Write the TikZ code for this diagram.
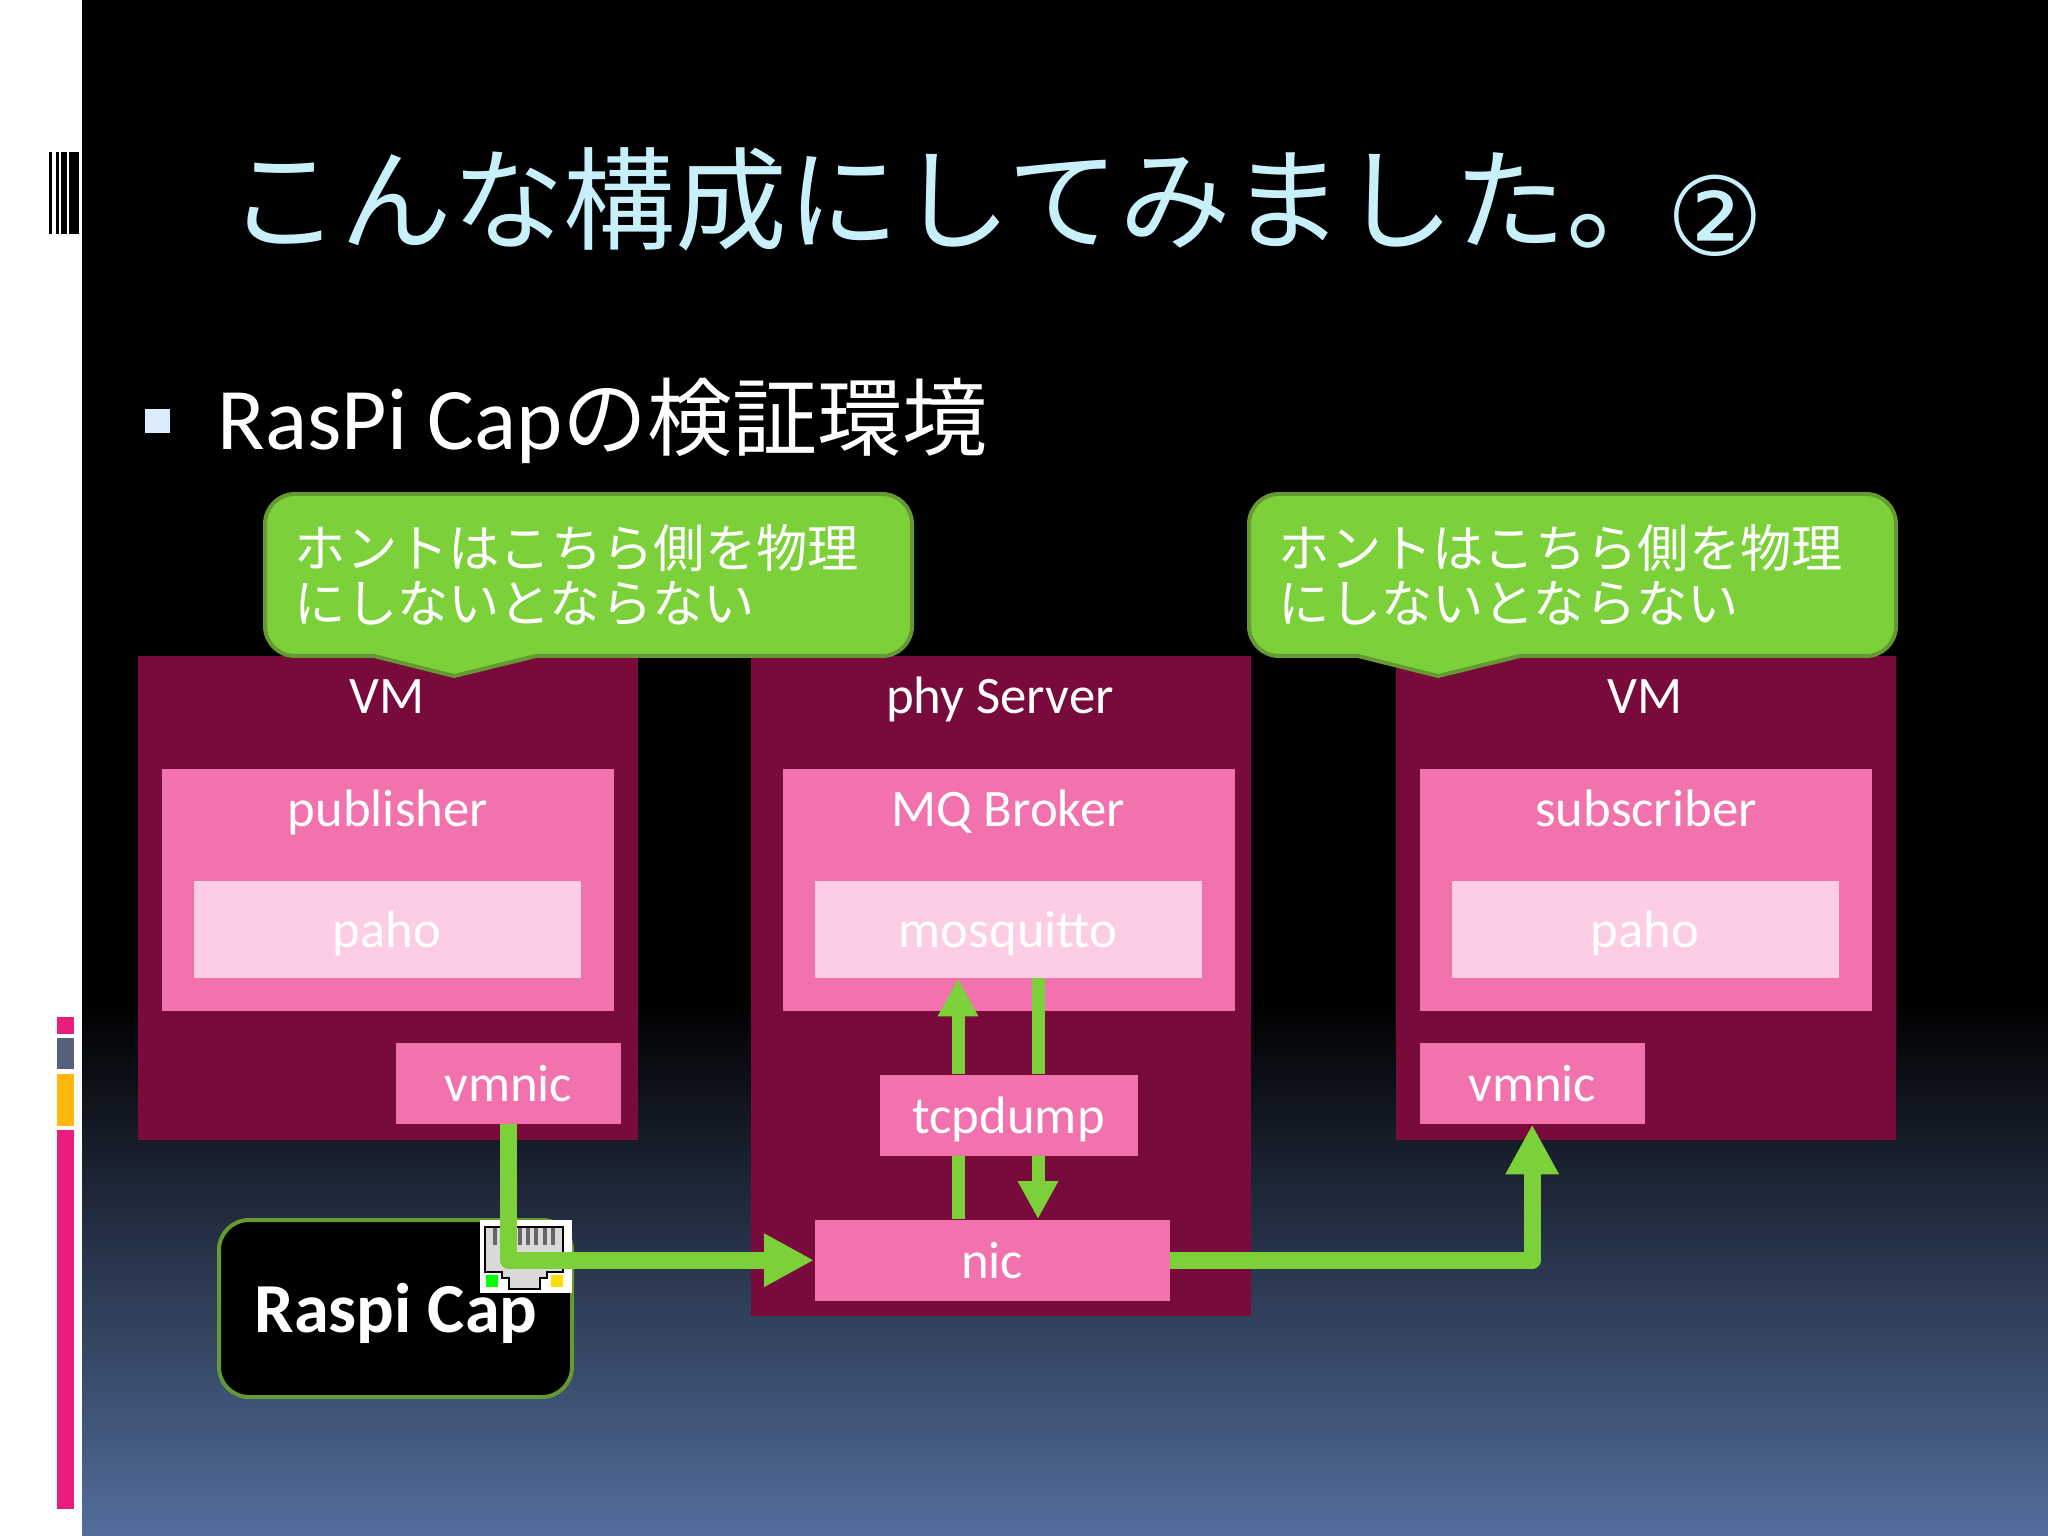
\documentclass[tikz,border=0pt]{standalone}
\usepackage{fontspec}
\usepackage{xcolor}
\usepackage{tikz}
\usetikzlibrary{arrows.meta}
\setmainfont{Carlito}
\newfontfamily\jpfont{Noto Sans CJK JP}
\newfontfamily\circfont{DejaVu Sans}
\definecolor{hostcol}{HTML}{780B3B}
\definecolor{boxcol}{HTML}{F272AE}
\definecolor{libcol}{HTML}{FCCDE5}
\definecolor{linkcol}{HTML}{7CD13A}
\definecolor{edgecol}{HTML}{659A32}
\definecolor{titlecol}{HTML}{C8F0FB}
\tikzset{
  host/.style={fill=hostcol, inner sep=0pt, anchor=north west},
  proc/.style={fill=boxcol, inner sep=0pt, anchor=north west, text=white, text height=10.5pt, text depth=0.3pt, font=\fontsize{15}{18}\selectfont},
  lib/.style={proc, fill=libcol},
  tag/.style={text=white, inner sep=0pt, anchor=base, font=\fontsize{15}{18}\selectfont},
  wire/.style={linkcol, line width=1.7mm, line join=round},
  wirearrow/.style={wire, -{Triangle[length=5mm,width=5mm]}},
  thin wire/.style={linkcol, line width=1.3mm},
  thin arrow/.style={thin wire, -{Triangle[length=3.8mm,width=3.8mm]}},
  note/.style={fill=linkcol, draw=edgecol, line width=0.4mm, rounded corners=3mm},
}
\begin{document}
\begin{tikzpicture}[x=1cm, y=-1cm]
  \useasboundingbox (0,0) rectangle (20.48,15.36);

  % Slide background
  \fill[black] (0,0) rectangle (20.48,10);
  \shade[top color=black, bottom color={rgb,255:red,83;green,109;blue,156}] (0,10) rectangle (20.48,15.36);
  \fill[white] (0,0) rectangle (0.82,15.36);

  % Bars at the left edge
  \foreach \a/\b in {0.49/0.52, 0.56/0.59, 0.61/0.67, 0.69/0.79} {
    \fill[black] (\a,1.52) rectangle (\b,2.34);
  }
  \fill[fill={rgb,255:red,233;green,30;blue,124}] (0.57,10.17) rectangle (0.74,10.34);
  \fill[fill={rgb,255:red,85;green,97;blue,122}] (0.57,10.38) rectangle (0.74,10.69);
  \fill[fill={rgb,255:red,255;green,184;blue,15}] (0.57,10.74) rectangle (0.74,11.26);
  \fill[fill={rgb,255:red,233;green,30;blue,124}] (0.57,11.30) rectangle (0.74,15.09);

  % Title and bullet
  \node[anchor=west, inner sep=0pt, text=titlecol] (title) at (2.28,1.99)
    {\fontsize{31.8}{38}\selectfont\jpfont こんな構成にしてみました。};
  \node[inner sep=0pt, text=titlecol, font=\fontsize{31}{36}\selectfont\circfont] (titlenum) at (17.15,2.16) {②};
  \fill[fill={rgb,255:red,218;green,235;blue,251}] (1.45,4.09) rectangle (1.70,4.33);
  \node[anchor=west, inner sep=0pt, text=white] (subtitle) at (2.17,4.21)
    {\fontsize{25}{28}\selectfont RasPi Cap{\jpfont\fontsize{24.2}{28}\selectfont の検証環境}};

  % Hosts
  \node[host, minimum width=5cm, minimum height=4.84cm] (vmleft) at (1.37,6.55) {};
  \node[host, minimum width=5cm, minimum height=6.6cm] (phy) at (7.50,6.55) {};
  \node[host, minimum width=5cm, minimum height=4.84cm] (vmright) at (13.95,6.55) {};
  \node[tag] (vmlefttag) at (3.87,7.14) {VM};
  \node[tag] (phytag) at (10.00,7.14) {phy Server};
  \node[tag] (vmrighttag) at (16.45,7.14) {VM};

  % Callouts
  \foreach \x/\name in {0/noteleft, 9.84/noteright} {
    \begin{scope}[xshift=\x cm]
      \draw[note] (2.65,4.94) -- (9.12,4.94) -- (9.12,6.56) [sharp corners] -- (5.36,6.56)
        -- (4.54,6.76) -- (3.74,6.56) [rounded corners=3mm] -- (2.65,6.56) -- cycle;
      \node[anchor=north west, inner sep=0pt, text=white, align=left,
        font=\fontsize{14.6}{15.7}\selectfont\jpfont] (\name) at (2.94,5.24)
        {ホントはこちら側を物理\\にしないとならない};
    \end{scope}
  }

  % Programs
  \node[host, fill=boxcol, minimum width=4.52cm, minimum height=2.42cm] (pub) at (1.61,7.68) {};
  \node[host, fill=boxcol, minimum width=4.52cm, minimum height=2.42cm] (broker) at (7.82,7.68) {};
  \node[host, fill=boxcol, minimum width=4.52cm, minimum height=2.42cm] (sub) at (14.19,7.68) {};
  \node[tag] (pubtag) at (3.88,8.27) {publisher};
  \node[tag] (brokertag) at (10.08,8.27) {MQ Broker};
  \node[tag] (subtag) at (16.46,8.27) {subscriber};

  % Libraries
  \node[lib, minimum width=3.87cm, minimum height=0.97cm] (paholeft) at (1.93,8.80) {paho};
  \node[lib, minimum width=3.87cm, minimum height=0.97cm] (mosq) at (8.14,8.80) {mosquitto};
  \node[lib, minimum width=3.87cm, minimum height=0.97cm] (pahoright) at (14.51,8.80) {paho};

  % NICs
  \node[proc, minimum width=2.25cm, minimum height=0.81cm] (vmnicleft) at (3.95,10.42) {vmnic};
  \node[proc, minimum width=2.25cm, minimum height=0.81cm] (vmnicright) at (14.19,10.42) {vmnic};
  \node[proc, minimum width=2.58cm, minimum height=0.81cm] (tcpdump) at (8.79,10.74) {tcpdump};
  \node[proc, minimum width=3.55cm, minimum height=0.81cm] (nic) at (8.14,12.19) {nic};

  % Raspi Cap
  \node[anchor=north west, fill=black, draw=edgecol, line width=0.4mm, rounded corners=3mm, outer sep=0pt,
    inner sep=0pt, minimum width=3.53cm, minimum height=1.77cm] (raspi) at (2.19,12.20) {};
  \node[text=white, inner sep=0pt, font=\fontsize{20}{24}\selectfont\bfseries] (raspitag) at (3.96,13.13) {Raspi Cap};

  % Network port icon
  \fill[white] (4.80,12.20) rectangle (5.72,12.93);
  \draw[black, fill=black!15, line width=0.2mm] (4.85,12.27) -- (5.63,12.27) -- (5.63,12.72) -- (5.47,12.72) -- (5.47,12.78)
    -- (5.40,12.78) -- (5.40,12.89) -- (5.09,12.89) -- (5.09,12.78) -- (5.02,12.78) -- (5.02,12.72) -- (4.85,12.72) -- cycle;
  \foreach \x in {4.93,5.01,5.09,5.18,5.26,5.34,5.43,5.51} {
    \fill[black!60] (\x,12.28) rectangle (\x+0.04,12.45);
  }
  \fill[green] (4.86,12.75) rectangle (4.98,12.87);
  \fill[yellow!80!orange] (5.51,12.75) rectangle (5.63,12.87);

  % Traffic
  \coordinate (upline) at (9.58,11);
  \coordinate (downline) at (10.38,11);
  \draw[wirearrow] (vmnicleft.south) |- (nic.west);
  \draw[wirearrow] (nic.east) -| (vmnicright.south);
  \draw[thin wire] (nic.north -| upline) -- (tcpdump.south -| upline);
  \draw[thin arrow] (tcpdump.north -| upline) -- (mosq.south -| upline);
  \draw[thin wire] (mosq.south -| downline) -- (tcpdump.north -| downline);
  \draw[thin arrow] (tcpdump.south -| downline) -- (nic.north -| downline);
\end{tikzpicture}
\end{document}
